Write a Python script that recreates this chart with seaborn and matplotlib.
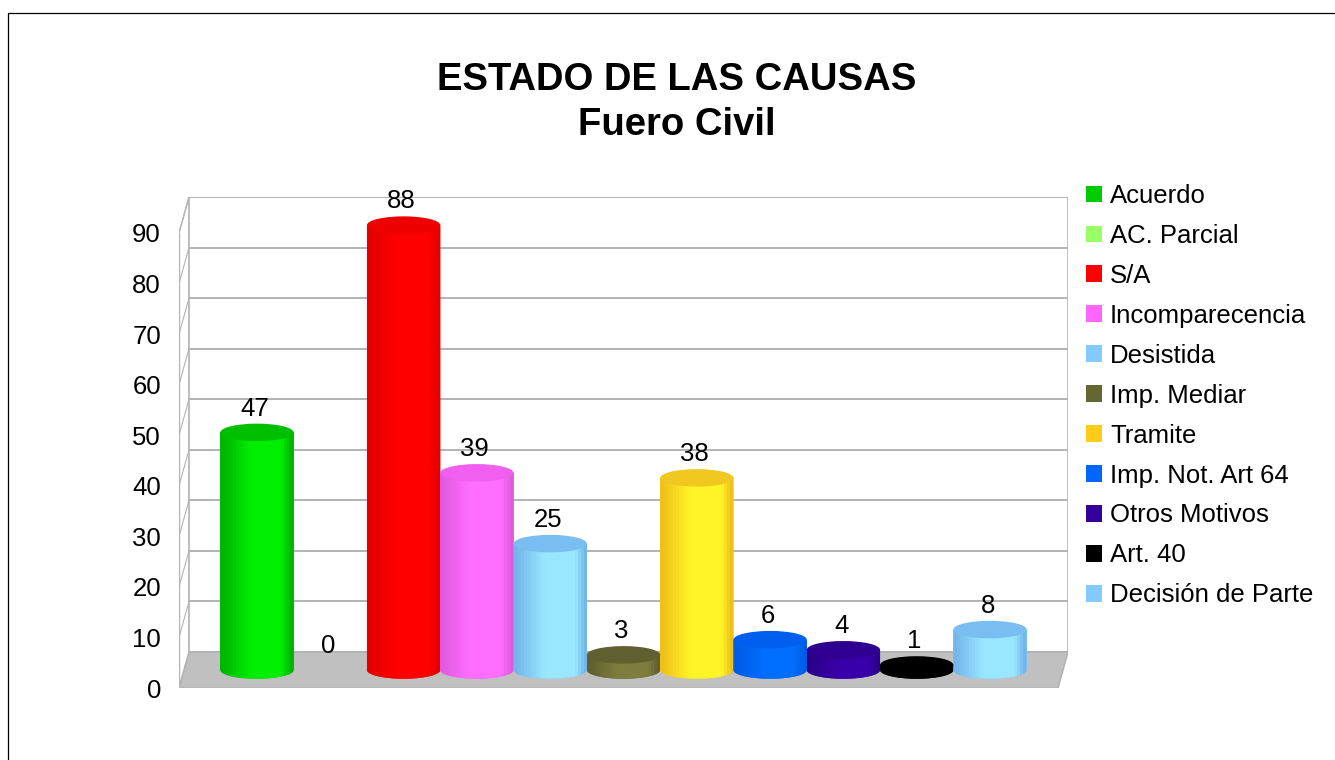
import numpy as np
import pandas as pd
import matplotlib
matplotlib.use('Agg')
import matplotlib.pyplot as plt
import seaborn as sns
from matplotlib.colors import LinearSegmentedColormap
from matplotlib.patches import Ellipse, Polygon, Rectangle

categorias = ['Acuerdo', 'AC. Parcial', 'S/A', 'Incomparecencia', 'Desistida', 'Imp. Mediar',
              'Tramite', 'Imp. Not. Art 64', 'Otros Motivos', 'Art. 40', 'Decisión de Parte']
valores = [47, 0, 88, 39, 25, 3, 38, 6, 4, 1, 8]
ticks = [0, 10, 20, 30, 40, 50, 60, 70, 80, 90]

# colores: leyenda, tapa, borde del cuerpo, centro del cuerpo
leyenda = ['#00CC00', '#99FF66', '#FF0000', '#FF66FF', '#83CAFF', '#666633',
           '#FFCC1A', '#0066FF', '#330099', '#000000', '#83CAFF']
tapa = ['#00BF00', '#8FEF5F', '#EF0000', '#F05FF0', '#7ABDF0', '#5F5F30',
        '#F0C81F', '#005FEF', '#2F008F', '#000000', '#7ABDF0']
borde = ['#00B400', '#88E058', '#E40000', '#E05AE0', '#72B6EA', '#5F5F2F',
         '#EFC01A', '#005CE6', '#2C0088', '#000000', '#72B6EA']
centro = ['#00EE00', '#A8FF78', '#FF0000', '#FF6EFF', '#99E6FF', '#7D7D3E',
          '#FFF526', '#006EFF', '#3800A8', '#000000', '#99E6FF']

W, H = 1335, 760
# zona del grafico en pixeles
x_izq, x_der, y_arriba, y_abajo = 179, 1068, 197, 688
px_x = 73.3
px_y = 5.056
prof_x = 10 / px_x
prof_y = 18 / px_y
alto_elipse = 17.5 / px_y
gris = '#B3B3B3'

sns.set_style('white')
plt.rcParams['font.family'] = ['Liberation Sans', 'DejaVu Sans']
plt.rcParams['text.color'] = 'black'

fig = plt.figure(figsize=(W / 100, H / 100), dpi=100, facecolor='white')
ax = fig.add_axes([x_izq / W, 1 - y_abajo / H, (x_der - x_izq) / W, (y_abajo - y_arriba) / H])

df = pd.DataFrame({'categoria': categorias, 'valor': valores})
sns.barplot(data=df, x='categoria', y='valor', hue='categoria', hue_order=categorias,
            palette=leyenda, saturation=1, dodge=False, width=1, linewidth=0, zorder=3, legend=True, ax=ax)

xmin = -(257 - x_izq) / px_x
xmax = xmin + (x_der - x_izq) / px_x
ymin = -prof_y
ymax = ticks[-1] + prof_y
ax.set_xlim(xmin, xmax)
ax.set_ylim(ymin, ymax)
ax.set_xlabel('')
ax.set_ylabel('')
ax.set_xticks([])
ax.set_yticks([t - prof_y for t in ticks])
ax.set_yticklabels([str(t) for t in ticks], fontsize=18.5, color='black')
ax.tick_params(axis='y', length=0, pad=13)
ax.patch.set_visible(False)
sns.despine(ax=ax, left=True, bottom=True)

# piso y paredes
ax.add_patch(Polygon([(xmin, -prof_y), (xmax - prof_x, -prof_y), (xmax, prof_y), (xmin + prof_x, prof_y)],
                     closed=True, facecolor='#C0C0C0', edgecolor=gris, linewidth=1.2, zorder=1))
ax.plot([xmin, xmin + prof_x], [ticks[-1] - prof_y, ticks[-1] + prof_y], color=gris, lw=1, zorder=1)
ax.plot([xmin, xmin], [-prof_y, ticks[-1] - prof_y], color=gris, lw=1, zorder=1)
ax.plot([xmin + prof_x, xmin + prof_x], [prof_y, ymax], color=gris, lw=1.2, zorder=1)
ax.plot([xmax, xmax], [prof_y, ymax], color=gris, lw=1.2, zorder=1)
for t in ticks:
    ax.plot([xmin + prof_x, xmax], [t + prof_y, t + prof_y], color=gris, lw=1.4, zorder=1)
    if t > 0:
        ax.plot([xmin, xmin + prof_x], [t - prof_y, t + prof_y], color=gris, lw=0.8, zorder=1)

# cilindros encima de las barras
for cont, nombre in zip(ax.containers, categorias):
    i = categorias.index(nombre)
    for b in cont:
        if b.get_height() <= 0:
            continue
        x0 = b.get_x()
        ancho = b.get_width()
        alto = b.get_height()
        t = np.linspace(np.pi, 2 * np.pi, 40)
        xs = x0 + ancho / 2 + ancho / 2 * np.cos(t[::-1])
        ys = alto_elipse / 2 * np.sin(t[::-1])
        cuerpo = Polygon(list(zip(xs, ys)) + [(x0, alto), (x0 + ancho, alto)], closed=True,
                         facecolor=leyenda[i], edgecolor='none', zorder=4)
        ax.add_patch(cuerpo)
        cmap = LinearSegmentedColormap.from_list('c', [(0, borde[i]), (0.4, centro[i]), (0.85, centro[i]), (1, borde[i])], N=24)
        img = ax.imshow(np.linspace(0, 1, 74).reshape(1, -1), cmap=cmap, aspect='auto', vmin=0, vmax=1,
                        extent=(x0, x0 + ancho, -alto_elipse, alto), zorder=4.5, interpolation='nearest')
        img.set_clip_path(cuerpo)
        ax.add_patch(Ellipse((x0 + ancho / 2, alto), ancho, alto_elipse, facecolor=tapa[i], edgecolor='none', zorder=5))
    etiquetas = ax.bar_label(cont, fmt='%g', padding=8.5, fontsize=18.5, color='black', zorder=6)
    for e in etiquetas:
        e.xyann = (-1.5, e.xyann[1])

ax.set_xlim(xmin, xmax)
ax.set_ylim(ymin, ymax)

handles, labels = ax.get_legend_handles_labels()
ax.get_legend().remove()
fig.legend(handles, labels, loc='upper left', bbox_to_anchor=(1086 / W, 1 - 184 / H), frameon=False,
           fontsize=18.5, handlelength=0.62, handleheight=0.62, handletextpad=0.31, labelspacing=0.62,
           borderpad=0, borderaxespad=0, labelcolor='black')

fig.text(677 / W, 1 - 80 / H, 'ESTADO DE LAS CAUSAS', ha='center', va='center', fontsize=27.5, fontweight='bold', color='black')
fig.text(677 / W, 1 - 125 / H, 'Fuero Civil', ha='center', va='center', fontsize=27.5, fontweight='bold', color='black')

# marco exterior, se sale por la derecha y por abajo
fig.add_artist(Rectangle((8 / W, -0.1), 1.2, 1.1 - 13.5 / H, transform=fig.transFigure,
                         fill=False, edgecolor='black', linewidth=0.9))

fig.savefig('out.png', dpi=100)
